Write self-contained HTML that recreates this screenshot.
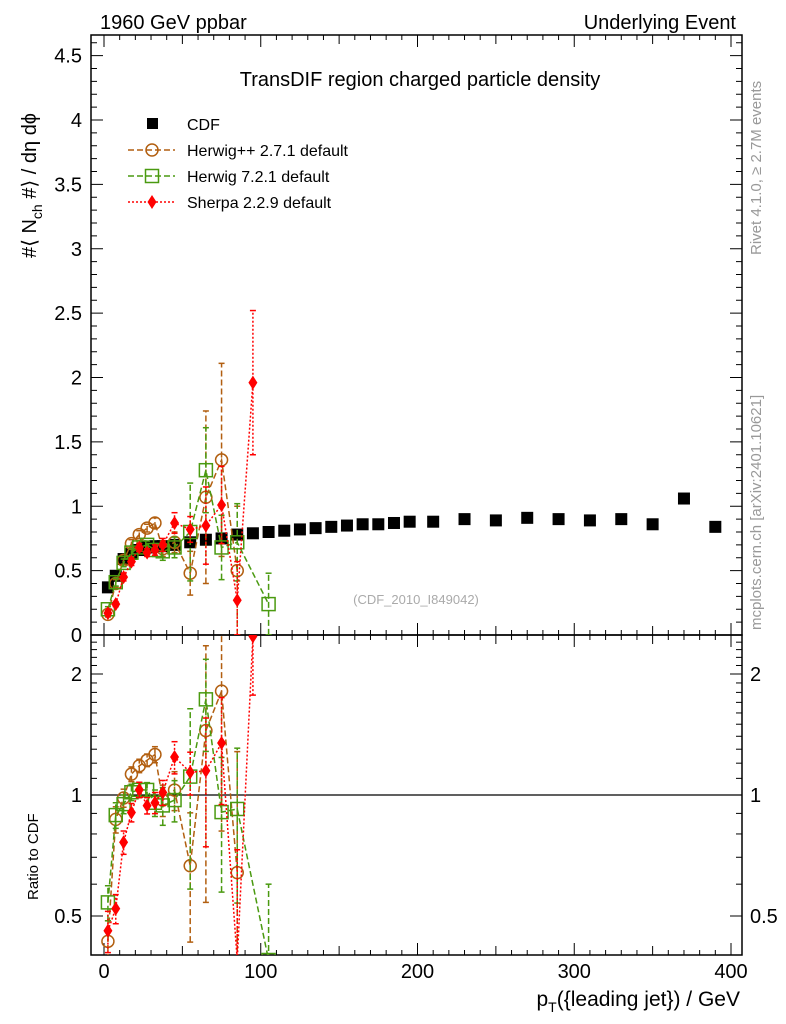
<!DOCTYPE html>
<html><head><meta charset="utf-8"><style>
html,body{margin:0;padding:0;background:#fff;overflow:hidden;width:786px;height:1024px;}
svg{display:block;font-family:"Liberation Sans",sans-serif;}
</style></head><body>
<svg id="c" width="786" height="1024" viewBox="0 0 786 1024">
<defs>
<clipPath id="clipMain"><rect x="91" y="35" width="651" height="600"/></clipPath>
<clipPath id="clipRatio"><rect x="91" y="635" width="651" height="320"/></clipPath>
</defs>
<text x="100" y="29" font-size="20">1960 GeV ppbar</text>
<text x="736" y="29" font-size="20" text-anchor="end">Underlying Event</text>
<text x="420" y="86" font-size="20" text-anchor="middle">TransDIF region charged particle density</text>
<text x="416" y="604" font-size="13" fill="#aaa" text-anchor="middle">(CDF_2010_I849042)</text>
<text transform="translate(761,255) rotate(-90)" font-size="15" fill="#999">Rivet 4.1.0, ≥ 2.7M events</text>
<text transform="translate(761,630) rotate(-90)" font-size="15" fill="#999">mcplots.cern.ch [arXiv:2401.10621]</text>
<text transform="translate(36,258) rotate(-90)" font-size="20">#⟨ N<tspan font-size="14" dy="6">ch</tspan><tspan dy="-6"> #⟩ / dη dϕ</tspan></text>
<text transform="translate(38,900) rotate(-90)" font-size="15">Ratio to CDF</text>
<text x="740" y="1006" font-size="21" text-anchor="end">p<tspan font-size="14" dy="6">T</tspan><tspan dy="-6">({leading jet}) / GeV</tspan></text>
<g id="axes"></g>
<g id="marks"></g>
<g id="legend"></g>
</svg>
<script>
const xCenters=[2.5,7.5,12.5,17.5,22.5,27.5,32.5,37.5,45,55,65,75,85,95,105,115,125,135,145,155,165,175,185,195,210,230,250,270,290,310,330,350,370,390];
const cdfValues=[0.37,0.46,0.59,0.63,0.66,0.68,0.69,0.69,0.70,0.72,0.74,0.75,0.78,0.79,0.80,0.81,0.82,0.83,0.84,0.85,0.86,0.86,0.87,0.88,0.88,0.90,0.89,0.91,0.90,0.89,0.90,0.86,1.06,0.84];
const hppX=[2.5,7.5,12.5,17.5,22.5,27.5,32.5,37.5,45,55,65,75,85];
const hppValues=[0.16,0.40,0.58,0.71,0.78,0.83,0.87,0.67,0.72,0.48,1.07,1.36,0.50];
const hppErr=[0.02,0.03,0.03,0.03,0.03,0.03,0.04,0.06,0.08,0.17,0.67,0.75,0.5];
const h7X=[2.5,7.5,12.5,17.5,22.5,27.5,32.5,37.5,45,55,65,75,85,105];
const h7Values=[0.20,0.41,0.56,0.64,0.68,0.70,0.66,0.65,0.68,0.80,1.28,0.68,0.72,0.24];
const h7Err=[0.02,0.03,0.03,0.03,0.03,0.03,0.05,0.07,0.08,0.38,0.33,0.25,0.3,0.24];
const shX=[2.5,7.5,12.5,17.5,22.5,27.5,32.5,37.5,45,55,65,75,85,95];
const shValues=[0.17,0.24,0.45,0.57,0.68,0.64,0.66,0.70,0.87,0.82,0.85,1.01,0.27,1.96];
const shErr=[0.02,0.02,0.03,0.03,0.03,0.03,0.04,0.05,0.08,0.1,0.3,0.3,0.3,0.56];
const xTicks=[0,100,200,300,400];
const yTicks=[0,0.5,1,1.5,2,2.5,3,3.5,4,4.5];
const rTicks=[0.5,1,2];

const NS='http://www.w3.org/2000/svg';
const clampY=y=>Math.min(960,Math.max(30,y));
const X=v=>104+v*1.5675;
const Y=v=>clampY(635-v*128.75);
const R=v=>clampY(795-Math.log2(Math.max(v,0.01))*121);
function el(tag,attrs,parent){const e=document.createElementNS(NS,tag);for(const k in attrs)e.setAttribute(k,attrs[k]);parent.appendChild(e);return e;}
const axes=document.getElementById('axes'),marks=document.getElementById('marks'),leg=document.getElementById('legend');
let f1=el('rect',{x:91,y:35,width:651,height:600,fill:'none',stroke:'#000','stroke-width':1.5},axes);


let f2=el('rect',{x:91,y:635,width:651,height:320,fill:'none',stroke:'#000','stroke-width':1.5},axes);


for(let v=-10;v<=410;v+=10){const x=X(v);if(x<92||x>741)continue;const L=v%100===0?12:(v%50===0?9:5);
 for(const [t,b] of [[35,635],[635,955]]){el('line',{x1:x,y1:b,x2:x,y2:b-L,stroke:'#000'},axes);el('line',{x1:x,y1:t,x2:x,y2:t+L,stroke:'#000'},axes);}}
xTicks.forEach(v=>{const t=el('text',{x:X(v),y:978,'font-size':20,'text-anchor':'middle'},axes);t.textContent=v;
 
 });
for(let i=0;i<=46;i++){const v=i/10,y=Y(v);const L=i%5===0?12:6;
 el('line',{x1:91,y1:y,x2:91+L,y2:y,stroke:'#000'},axes);el('line',{x1:742,y1:y,x2:742-L,y2:y,stroke:'#000'},axes);}
yTicks.forEach(v=>{const t=el('text',{x:82,y:Y(v)+7,'font-size':20,'text-anchor':'end'},axes);t.textContent=String(v);
 
 });
[0.4,0.5,0.6,0.7,0.8,0.9,1,1.1,1.2,1.3,1.4,1.5,1.6,1.7,1.8,1.9,2,2.1,2.2,2.3,2.4,2.5].forEach(v=>{const y=R(v);if(y<636||y>954)return;const L=rTicks.includes(v)?12:6;
 el('line',{x1:91,y1:y,x2:91+L,y2:y,stroke:'#000'},axes);el('line',{x1:742,y1:y,x2:742-L,y2:y,stroke:'#000'},axes);});
rTicks.forEach(v=>{[[82,'end'],[750,'start']].forEach(([x,a])=>{const t=el('text',{x:x,y:R(v)+7,'font-size':20,'text-anchor':a},axes);t.textContent=String(v);
 
 });});
let one=el('line',{x1:91,y1:R(1),x2:742,y2:R(1),stroke:'#000','stroke-width':1.2},axes);



function marker(type,x,y,color,g){
 if(type==='sq')return el('rect',{x:x-6,y:y-6,width:12,height:12,fill:'#000'},g);
 if(type==='circ')return el('circle',{cx:x,cy:y,r:6,fill:'none',stroke:color,'stroke-width':1.5},g);
 if(type==='osq')return el('rect',{x:x-6.5,y:y-6.5,width:13,height:13,fill:'none',stroke:color,'stroke-width':1.5},g);
 if(type==='dia')return el('path',{d:`M${x} ${y-7}L${x+4.5} ${y}L${x} ${y+7}L${x-4.5} ${y}Z`,fill:color},g);
}
const gc=el('g',{'clip-path':'url(#clipMain)'},marks);


xCenters.forEach((x,i)=>{const m=marker('sq',X(x),Y(cdfValues[i]),'#000',gc);
 
 });
function cdfAt(x){const i=xCenters.indexOf(x);return cdfValues[i];}
function series(name,xs,vs,es,color,dash,type){
 [[Y,v=>v,'url(#clipMain)'],[R,(v,x)=>v/cdfAt(x),'url(#clipRatio)']].forEach(([F,tr,clip],k)=>{
  const g=el('g',{'clip-path':clip},marks);
  
  
  const pts=xs.map((x,i)=>[X(x),F(tr(vs[i],x))]);
  el('polyline',{points:pts.map(p=>p.join(',')).join(' '),fill:'none',stroke:color,'stroke-width':1.5,'stroke-dasharray':dash},g);
  xs.forEach((x,i)=>{const lo=tr(Math.max(vs[i]-es[i],0.001),x),hi=tr(vs[i]+es[i],x);
   const px=X(x);el('line',{x1:px,y1:F(lo),x2:px,y2:F(hi),stroke:color,'stroke-width':1.5,'stroke-dasharray':dash},g);
   el('line',{x1:px-3,y1:F(hi),x2:px+3,y2:F(hi),stroke:color,'stroke-width':1.5},g);
   el('line',{x1:px-3,y1:F(lo),x2:px+3,y2:F(lo),stroke:color,'stroke-width':1.5},g);
   const m=marker(type,pts[i][0],pts[i][1],color,g);
   
   });
 });
}
series('herwigpp',hppX,hppValues,hppErr,'#b25f10','6,3','circ');
series('herwig7',h7X,h7Values,h7Err,'#4a9a10','6,3','osq');
series('sherpa',shX,shValues,shErr,'#ff0000','2,2','dia');
const L=[['CDF','#000','sq',null],['Herwig++ 2.7.1 default','#b25f10','circ','6,3'],['Herwig 7.2.1 default','#4a9a10','osq','6,3'],['Sherpa 2.2.9 default','#ff0000','dia','2,2']];
L.forEach((e,i)=>{const y=124+i*26;const g=el('g',{},leg);
 
 
 if(e[3])el('line',{x1:128,y1:y,x2:175,y2:y,stroke:e[1],'stroke-width':1.5,'stroke-dasharray':e[3]},g);
 if(e[2]==='sq')el('rect',{x:147,y:y-6,width:11,height:11,fill:'#000'},g);else marker(e[2],152,y,e[1],g);
 const t=el('text',{x:187,y:y+6,'font-size':16},g);t.textContent=e[0];});
</script>
</body></html>
